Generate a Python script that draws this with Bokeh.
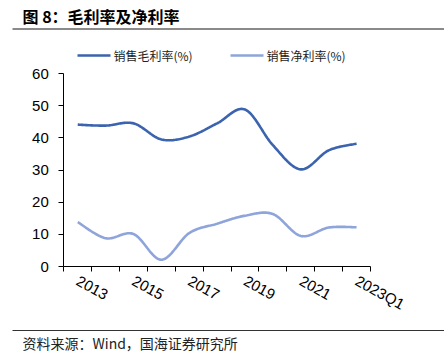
import numpy as np
from bokeh.plotting import figure
from bokeh.models import (Range1d, FixedTicker, Label, LinearAxis, BoxAnnotation)
from bokeh.embed import file_html
from bokeh.resources import INLINE

categories = ["2013", "2014", "2015", "2016", "2017", "2018", "2019", "2020", "2021", "2022", "2023Q1"]
gross_margin = [44.1, 43.8, 44.5, 39.5, 40.4, 44.5, 48.8, 37.7, 30.2, 36.1, 38.2]
net_margin = [13.8, 8.8, 10.1, 2.1, 10.4, 13.3, 15.8, 16.3, 9.5, 12.1, 12.2]
y_ticks = [0, 10, 20, 30, 40, 50, 60]
series_names = ["销售毛利率(%)", "销售净利率(%)"]
title_text = "图 8：毛利率及净利率"
source_text = "资料来源：Wind，国海证券研究所"

CJK = "Noto Sans CJK SC"
NUM = "Liberation Sans"
C1 = "#3B63AE"
C2 = "#8EA4DA"
W, H = 444, 364

# plot area in canvas pixels
AX_L, AX_R = 63.3, 370.0      # x axis extent
AX_B, AX_T = 266.0, 73.0      # y of value 0 and value 60
n = len(categories)
ppc = (AX_R - AX_L) / n       # pixels per category
ppu = (AX_B - AX_T) / 60.0    # pixels per unit
x0 = -0.5 - AX_L / ppc
x1 = n - 0.5 + (W - AX_R) / ppc
y0 = -(H - AX_B) / ppu
y1 = 60 + AX_T / ppu


def smooth(xs, ys, m_pts=24):
    pts = np.column_stack([xs, ys]).astype(float)
    m = len(pts)
    ox, oy = [], []
    for i in range(m - 1):
        p0 = pts[i - 1] if i > 0 else pts[i]
        p1 = pts[i]
        p2 = pts[i + 1]
        p3 = pts[i + 2] if i + 2 < m else pts[i + 1]
        c1 = p1 + (p2 - p0) / 6.0
        c2 = p2 - (p3 - p1) / 6.0
        t = np.linspace(0, 1, m_pts, endpoint=(i == m - 2))[:, None]
        b = ((1 - t) ** 3) * p1 + 3 * ((1 - t) ** 2) * t * c1 + 3 * (1 - t) * t ** 2 * c2 + t ** 3 * p2
        ox.extend(b[:, 0]); oy.extend(b[:, 1])
    return ox, oy


p = figure(width=W, height=H, output_backend="svg", toolbar_location=None,
           x_range=Range1d(x0, x1), y_range=Range1d(y0, y1),
           x_axis_location=None, y_axis_location=None,
           min_border=0, min_border_left=0, min_border_right=0,
           min_border_top=0, min_border_bottom=0)
p.outline_line_color = None
p.grid.visible = False
p.background_fill_color = "white"
p.border_fill_color = "white"

x_idx = list(range(n))
gx, gy = smooth(x_idx, gross_margin)
nx, ny = smooth(x_idx, net_margin)
p.line(gx, gy, line_color=C1, line_width=2.6)
p.line(nx, ny, line_color=C2, line_width=2.6)

# y axis
yax = LinearAxis(fixed_location=-0.5, bounds=(0, 60), ticker=FixedTicker(ticks=y_ticks))
yax.major_tick_out = 5
yax.major_tick_in = 0
yax.minor_tick_out = 0
yax.minor_tick_in = 0
yax.axis_line_color = "black"
yax.major_tick_line_color = "black"
yax.major_label_text_font = NUM
yax.major_label_text_font_size = "15px"
yax.major_label_text_color = "black"
yax.major_label_standoff = 10
p.add_layout(yax, "left")

# x axis
label_pos = list(range(0, n, 2))
xax = LinearAxis(fixed_location=0, bounds=(-0.5, n - 0.5),
                 ticker=FixedTicker(ticks=label_pos,
                                    minor_ticks=[i - 0.5 for i in range(n + 1)]))
xax.major_label_overrides = {i: categories[i] for i in label_pos}
xax.major_tick_out = 0
xax.major_tick_in = 0
xax.minor_tick_out = 5
xax.minor_tick_in = 0
xax.minor_tick_line_color = "black"
xax.axis_line_color = "black"
xax.major_label_orientation = -0.5
xax.major_label_text_font = NUM
xax.major_label_text_font_size = "15px"
xax.major_label_text_color = "black"
xax.major_label_standoff = 8
p.add_layout(xax, "below")


def hrule(left, right, yc, thick, color):
    p.add_layout(BoxAnnotation(left=left, right=right, top=yc - thick / 2, bottom=yc + thick / 2,
                               left_units="canvas", right_units="canvas",
                               top_units="canvas", bottom_units="canvas",
                               fill_color=color, fill_alpha=1, line_color=None, level="overlay"))


def text(x, y, s, font, size, style="normal", color="black"):
    p.add_layout(Label(x=x, y=y, x_units="canvas", y_units="canvas", text=s,
                       text_font=font, text_font_size=size, text_font_style=style,
                       text_color=color, text_baseline="middle", text_align="left"))


# header
text(22, 15, title_text, CJK, "16px", "bold")
hrule(12, W, 28.5, 2, "#8a8a8a")
leg_x = [77, 230]
for lx, col, name in zip(leg_x, [C1, C2], series_names):
    hrule(lx, lx + 33, 55, 2.6, col)
    text(lx + 36, 55, name, CJK, "12px", color="#222222")

# footer
hrule(12, W, 330, 1, "#333333")
text(22, 342, source_text, CJK, "14px", color="#222222")

open("out.html", "w").write(file_html(p, INLINE))
